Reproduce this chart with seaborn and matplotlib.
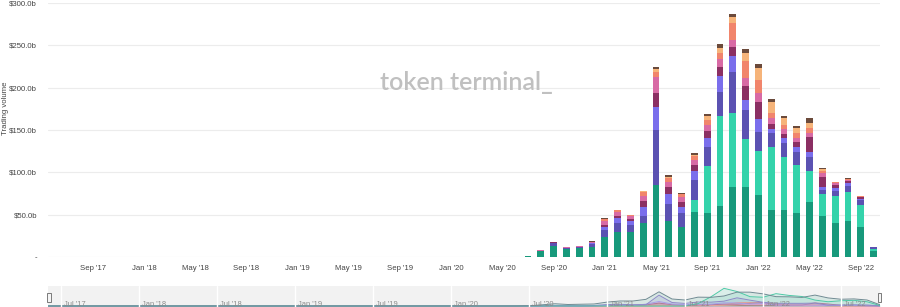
import numpy as np
import pandas as pd
import matplotlib
matplotlib.use("Agg")
import matplotlib.pyplot as plt
import seaborn as sns
from matplotlib.patches import Rectangle

# Monthly buckets shown on the axis (Jun 2017 .. Oct 2022)
months = pd.date_range("2017-06-01", "2022-10-01", freq="MS")
# Months with recorded volume (Jul 2020 .. Oct 2022); earlier months are zero
active = pd.date_range("2020-07-01", "2022-10-01", freq="MS")

# Trading volume per project, in $ billions (stacked bottom -> top)
vol_a = [1.2, 7.0, 13.4, 9.0, 10.6, 12.0, 23.3, 30.0, 30.0, 40.0, 85.0, 42.0, 36.0, 53.0,
         52.0, 60.0, 83.0, 83.0, 73.0, 56.0, 55.0, 51.5, 65.5, 48.5, 40.5, 42.5, 36.0, 7.5]
vol_b = [0, 0, 0, 0, 0, 0, 0, 0, 0, 0, 0, 0, 0, 14.0,
         55.0, 106.0, 87.0, 56.0, 52.5, 74.0, 63.5, 57.0, 35.5, 25.5, 31.5, 34.0, 25.5, 2.5]
vol_c = [0, 0.5, 2.6, 1.5, 0.9, 3.0, 8.7, 10.0, 8.0, 8.0, 65.0, 21.0, 15.5, 24.0,
         23.0, 29.0, 49.0, 35.0, 22.5, 16.0, 16.0, 16.0, 17.5, 5.0, 6.0, 7.5, 6.0, 1.5]
vol_d = [0, 0, 1.0, 0.3, 0.5, 1.0, 4.0, 6.0, 4.0, 11.0, 27.0, 12.0, 8.0, 11.0,
         11.0, 19.0, 18.0, 12.0, 15.0, 5.0, 5.5, 6.0, 5.0, 4.0, 3.0, 3.0, 1.0, 0.2]
vol_e = [0, 0, 0.3, 0.2, 0.2, 0.5, 2.0, 3.0, 3.0, 7.0, 17.0, 8.0, 5.5, 6.5,
         8.0, 11.0, 11.0, 16.0, 20.5, 6.0, 5.5, 5.5, 18.5, 12.0, 4.0, 3.0, 2.0, 0.1]
vol_f = [0, 0.3, 0.4, 0.3, 0.3, 1.0, 4.0, 4.0, 3.0, 6.0, 19.0, 6.0, 6.0, 6.0,
         7.0, 8.5, 8.5, 9.0, 10.0, 7.0, 5.5, 4.5, 5.0, 4.0, 2.0, 1.5, 0.8, 0.1]
vol_g = [0, 0, 0.2, 0.2, 0.1, 0.5, 2.5, 2.0, 1.5, 4.5, 5.0, 4.0, 3.0, 4.5,
         6.0, 7.5, 19.5, 20.0, 15.5, 6.0, 5.0, 6.5, 5.0, 3.0, 1.0, 0.8, 0.3, 0.1]
vol_h = [0, 0, 0, 0, 0, 0.2, 0.5, 0.5, 0.3, 1.0, 4.0, 2.0, 1.0, 2.0,
         4.0, 6.0, 8.0, 10.5, 14.0, 13.0, 8.0, 5.0, 6.5, 1.5, 0.5, 0.4, 0.2, 0]
vol_i = [0, 0.2, 0.1, 0, 0.1, 0.3, 1.0, 0.5, 0.2, 1.0, 3.0, 2.0, 1.0, 1.5,
         2.5, 4.5, 3.0, 4.0, 5.0, 4.0, 3.0, 3.0, 5.5, 1.5, 0.5, 0.3, 0.2, 0]

series = {"a": vol_a, "b": vol_b, "c": vol_c, "d": vol_d, "e": vol_e,
          "f": vol_f, "g": vol_g, "h": vol_h, "i": vol_i}
palette = ["#17997b", "#34d3ab", "#5b52b2", "#7a6eec", "#8b2f63",
           "#d86aa5", "#f1856c", "#f6b47a", "#6b4a3b"]
# Navigator outlines are drawn a little muted
nav_lines = ["#6f8a92", "#4cc9a6", "#8f88c8", "#a79fe8", "#b07a98",
             "#e3a2c4", "#e89a8a", "#f0c59e", "#a08c80"]

y_ticks = [0, 50, 100, 150, 200, 250, 300]
y_tick_labels = ["-", "$50.0b", "$100.0b", "$150.0b", "$200.0b", "$250.0b", "$300.0b"]

df = pd.DataFrame(series, index=active).reindex(months, fill_value=0.0)
cum = df.cumsum(axis=1)
month_labels = [d.strftime("%b '%y") for d in months]

sns.set_theme(style="white")
plt.rcParams["font.family"] = ["Liberation Sans", "DejaVu Sans"]

W, H = 900, 307
fig = plt.figure(figsize=(W / 100, H / 100), dpi=100)

# ---- main stacked bar chart ----
ax = fig.add_axes([48 / W, (H - 257) / H, (880 - 48) / W, (257 - 3) / H])
for name, color in reversed(list(zip(series.keys(), palette))):
    sns.barplot(x=month_labels, y=cum[name].values, order=month_labels, color=color,
                saturation=1, width=0.52, linewidth=0, errorbar=None, ax=ax)

ax.set_xlim(-0.5, len(months) - 0.5)
ax.set_ylim(0, 300)
ax.set_yticks(y_ticks)
ax.set_yticklabels(y_tick_labels)
xt = list(range(3, len(months), 4))
ax.set_xticks(xt)
ax.set_xticklabels([month_labels[i] for i in xt])
ax.tick_params(axis="y", length=0, pad=8, labelsize=5.6, labelcolor="#444444")
ax.tick_params(axis="x", length=3, width=0.6, color="#d0d0d0", pad=3,
               labelsize=5.6, labelcolor="#444444")
ax.yaxis.grid(True, color="#ececec", lw=0.8)
ax.set_axisbelow(True)
for s in ax.spines.values():
    s.set_visible(False)
ax.set_xlabel("")
ax.set_ylabel("")

fig.text(6 / W, 1 - 108 / H, "Trading volume", rotation=90, ha="center", va="center",
         fontsize=5.6, color="#444444")
fig.text(466 / W, 1 - 82 / H, "token terminal_", ha="center", va="center",
         fontsize=18, color="#c0c0c0", family=["Lato", "DejaVu Sans"], weight="semibold")

# ---- navigator strip ----
nav = fig.add_axes([48 / W, (H - 310) / H, (880 - 48) / W, 24 / H])
nav.set_facecolor("#f2f2f2")
idx = np.arange(len(months))
for name, color in zip(series.keys(), palette):
    nav.fill_between(idx, 0, df[name].values, color=color, alpha=0.12, lw=0)
for name, lc in reversed(list(zip(series.keys(), nav_lines))):
    sns.lineplot(x=idx, y=df[name].values, color=lc, lw=0.7, ax=nav)
nav.set_xlim(0, len(months) - 1)
nav.set_ylim(-24, 120)
for i in range(1, len(months), 6):
    nav.axvline(i, color="white", lw=1)
    nav.text(i + 0.25, 6, months[i].strftime("%b '%y"), ha="left", va="center",
             fontsize=5.4, color="#8a8a8a")
nav.set_xticks([])
nav.set_yticks([])
nav.set_xlabel("")
nav.set_ylabel("")
for s in nav.spines.values():
    s.set_visible(False)

# range handles
for hx in (47, 877.5):
    fig.add_artist(Rectangle((hx / W, (H - 302) / H), 3.5 / W, 9 / H,
                             transform=fig.transFigure, fc="#f4f4f4", ec="#666666", lw=0.6))

fig.savefig("out.png", dpi=100)
